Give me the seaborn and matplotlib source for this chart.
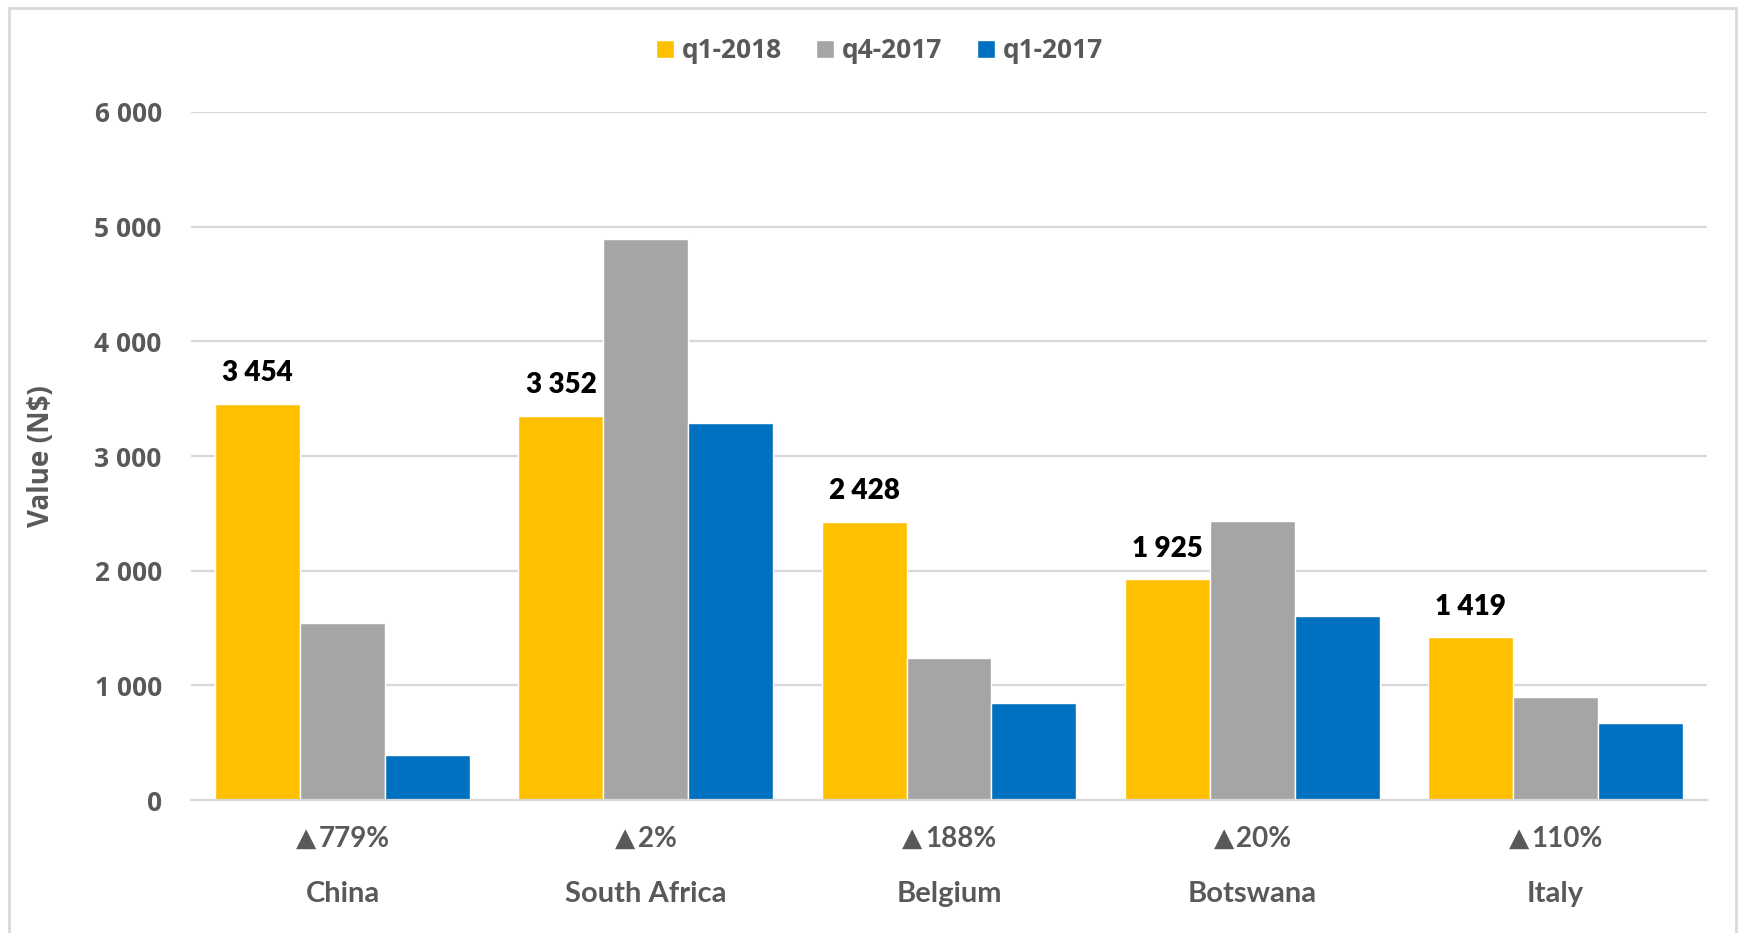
import matplotlib
matplotlib.use("Agg")
import matplotlib.pyplot as plt
import pandas as pd
import seaborn as sns
from matplotlib.patches import Rectangle

countries = ["China", "South Africa", "Belgium", "Botswana", "Italy"]
periods = ["q1-2018", "q4-2017", "q1-2017"]
q1_2018 = [3454, 3352, 2428, 1925, 1419]
q4_2017 = [1541, 4895, 1241, 2433, 901]
q1_2017 = [393, 3286, 843, 1604, 676]
growth_pct = [779, 2, 188, 20, 110]  # q1-2018 vs q1-2017
y_ticks = [0, 1000, 2000, 3000, 4000, 5000, 6000]

palette = {"q1-2018": "#FFC000", "q4-2017": "#A5A5A5", "q1-2017": "#0070C0"}
text_grey = "#595959"
grid_grey = "#D9D9D9"
wide_font = ["Open Sans", "DejaVu Sans"]

df = pd.DataFrame({
    "country": countries * 3,
    "period": [p for p in periods for _ in countries],
    "value": q1_2018 + q4_2017 + q1_2017,
})

sns.set_style("white")
plt.rcParams["font.family"] = ["Lato", "DejaVu Sans"]
plt.rcParams["font.weight"] = "bold"

fig = plt.figure(figsize=(17.41, 9.33), dpi=100)
ax = fig.add_axes([0.1097, 0.1425, 0.8708, 0.7375])

sns.barplot(data=df, x="country", y="value", hue="period", order=countries,
            hue_order=periods, palette=palette, width=0.84, saturation=1,
            errorbar=None, ax=ax)

ax.set_xlim(-0.5, len(countries) - 0.5)
ax.set_ylim(0, 6000)
ax.set_yticks(y_ticks)
ax.set_yticklabels([f"{v:,}".replace(",", " ") for v in y_ticks])
ax.grid(axis="y", color=grid_grey, linewidth=1.6)
ax.set_axisbelow(True)
for side in ["left", "right", "top"]:
    ax.spines[side].set_visible(False)
ax.spines["bottom"].set_color(grid_grey)
ax.spines["bottom"].set_linewidth(1.6)
ax.tick_params(axis="both", length=0, colors=text_grey)
ax.tick_params(axis="y", pad=21, labelsize=19)
ax.tick_params(axis="x", pad=58, labelsize=21)
for lbl in ax.get_xticklabels():
    lbl.set_fontweight("bold")
for lbl in ax.get_yticklabels():
    lbl.set_fontweight("bold")
    lbl.set_fontfamily(wide_font)

ax.set_xlabel("")
ax.set_ylabel("Value (N$)", fontsize=20, fontweight="bold", color=text_grey,
              fontfamily=wide_font)
ax.yaxis.set_label_coords(-0.089, 0.5)

# value labels above the q1-2018 bars
yellow_bars = ax.containers[0]
for bar, val in zip(yellow_bars, q1_2018):
    ax.annotate(f"{val:,}".replace(",", " "),
                (bar.get_x() + bar.get_width() / 2, bar.get_height()),
                xytext=(0, 22), textcoords="offset points", ha="center", va="center",
                fontsize=20, fontweight="heavy", color="black")

# year-on-year growth under each group: triangle drawn in DejaVu for a bigger glyph
for i, pct in enumerate(growth_pct):
    num = ax.annotate(f"{pct}%", (i, 0), xytext=(8.5, -28), textcoords="offset points",
                      ha="center", va="center", fontsize=20, fontweight="bold",
                      color=text_grey)
    ax.annotate("▲", xy=(0, 0.5), xycoords=num, xytext=(-2, 0), textcoords="offset points",
                ha="right", va="center", fontsize=19, fontfamily="DejaVu Sans",
                color=text_grey)

leg = ax.legend(loc="center", bbox_to_anchor=(0.505, 0.946), bbox_transform=fig.transFigure,
                ncol=3, frameon=False, prop={"family": wide_font, "weight": "bold", "size": 19},
                handlelength=0.68, handleheight=0.68, handletextpad=0.3, columnspacing=1.3)
for t in leg.get_texts():
    t.set_color(text_grey)

fig.patches.append(Rectangle((9 / 1741, -0.01), (1736 - 9) / 1741, 1 - 8 / 933 + 0.01,
                             transform=fig.transFigure, fill=False,
                             edgecolor=grid_grey, linewidth=2))

fig.savefig("out.png", dpi=100)
